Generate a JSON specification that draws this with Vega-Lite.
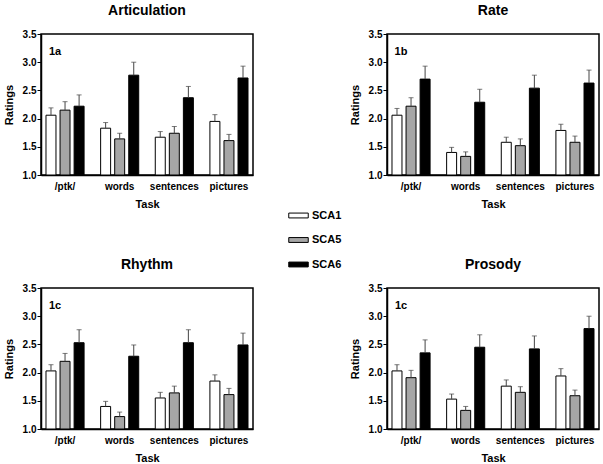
{
  "$schema": "https://vega.github.io/schema/vega-lite/v6.json",
  "background": "white",
  "padding": {"left": 2, "top": 3, "right": 5, "bottom": 5},
  "data": {"values": [
    {"panel": "Articulation", "tag": "1a", "task": "/ptk/", "group": "SCA1", "mean": 2.06, "upper": 2.19},
    {"panel": "Articulation", "tag": "1a", "task": "/ptk/", "group": "SCA5", "mean": 2.15, "upper": 2.30},
    {"panel": "Articulation", "tag": "1a", "task": "/ptk/", "group": "SCA6", "mean": 2.22, "upper": 2.42},
    {"panel": "Articulation", "tag": "1a", "task": "words", "group": "SCA1", "mean": 1.83, "upper": 1.93},
    {"panel": "Articulation", "tag": "1a", "task": "words", "group": "SCA5", "mean": 1.64, "upper": 1.74},
    {"panel": "Articulation", "tag": "1a", "task": "words", "group": "SCA6", "mean": 2.77, "upper": 3.00},
    {"panel": "Articulation", "tag": "1a", "task": "sentences", "group": "SCA1", "mean": 1.67, "upper": 1.77},
    {"panel": "Articulation", "tag": "1a", "task": "sentences", "group": "SCA5", "mean": 1.74, "upper": 1.86},
    {"panel": "Articulation", "tag": "1a", "task": "sentences", "group": "SCA6", "mean": 2.37, "upper": 2.57},
    {"panel": "Articulation", "tag": "1a", "task": "pictures", "group": "SCA1", "mean": 1.95, "upper": 2.07},
    {"panel": "Articulation", "tag": "1a", "task": "pictures", "group": "SCA5", "mean": 1.61, "upper": 1.72},
    {"panel": "Articulation", "tag": "1a", "task": "pictures", "group": "SCA6", "mean": 2.72, "upper": 2.93},
    {"panel": "Rate", "tag": "1b", "task": "/ptk/", "group": "SCA1", "mean": 2.06, "upper": 2.18},
    {"panel": "Rate", "tag": "1b", "task": "/ptk/", "group": "SCA5", "mean": 2.22, "upper": 2.37},
    {"panel": "Rate", "tag": "1b", "task": "/ptk/", "group": "SCA6", "mean": 2.70, "upper": 2.93},
    {"panel": "Rate", "tag": "1b", "task": "words", "group": "SCA1", "mean": 1.40, "upper": 1.49},
    {"panel": "Rate", "tag": "1b", "task": "words", "group": "SCA5", "mean": 1.33, "upper": 1.41},
    {"panel": "Rate", "tag": "1b", "task": "words", "group": "SCA6", "mean": 2.29, "upper": 2.52},
    {"panel": "Rate", "tag": "1b", "task": "sentences", "group": "SCA1", "mean": 1.58, "upper": 1.67},
    {"panel": "Rate", "tag": "1b", "task": "sentences", "group": "SCA5", "mean": 1.52, "upper": 1.64},
    {"panel": "Rate", "tag": "1b", "task": "sentences", "group": "SCA6", "mean": 2.54, "upper": 2.77},
    {"panel": "Rate", "tag": "1b", "task": "pictures", "group": "SCA1", "mean": 1.79, "upper": 1.90},
    {"panel": "Rate", "tag": "1b", "task": "pictures", "group": "SCA5", "mean": 1.58, "upper": 1.69},
    {"panel": "Rate", "tag": "1b", "task": "pictures", "group": "SCA6", "mean": 2.63, "upper": 2.86},
    {"panel": "Rhythm", "tag": "1c", "task": "/ptk/", "group": "SCA1", "mean": 2.03, "upper": 2.14},
    {"panel": "Rhythm", "tag": "1c", "task": "/ptk/", "group": "SCA5", "mean": 2.20, "upper": 2.34},
    {"panel": "Rhythm", "tag": "1c", "task": "/ptk/", "group": "SCA6", "mean": 2.53, "upper": 2.76},
    {"panel": "Rhythm", "tag": "1c", "task": "words", "group": "SCA1", "mean": 1.40, "upper": 1.49},
    {"panel": "Rhythm", "tag": "1c", "task": "words", "group": "SCA5", "mean": 1.22, "upper": 1.30},
    {"panel": "Rhythm", "tag": "1c", "task": "words", "group": "SCA6", "mean": 2.29, "upper": 2.49},
    {"panel": "Rhythm", "tag": "1c", "task": "sentences", "group": "SCA1", "mean": 1.55, "upper": 1.65},
    {"panel": "Rhythm", "tag": "1c", "task": "sentences", "group": "SCA5", "mean": 1.64, "upper": 1.76},
    {"panel": "Rhythm", "tag": "1c", "task": "sentences", "group": "SCA6", "mean": 2.53, "upper": 2.76},
    {"panel": "Rhythm", "tag": "1c", "task": "pictures", "group": "SCA1", "mean": 1.85, "upper": 1.96},
    {"panel": "Rhythm", "tag": "1c", "task": "pictures", "group": "SCA5", "mean": 1.61, "upper": 1.72},
    {"panel": "Rhythm", "tag": "1c", "task": "pictures", "group": "SCA6", "mean": 2.49, "upper": 2.70},
    {"panel": "Prosody", "tag": "1c", "task": "/ptk/", "group": "SCA1", "mean": 2.03, "upper": 2.14},
    {"panel": "Prosody", "tag": "1c", "task": "/ptk/", "group": "SCA5", "mean": 1.91, "upper": 2.04},
    {"panel": "Prosody", "tag": "1c", "task": "/ptk/", "group": "SCA6", "mean": 2.35, "upper": 2.58},
    {"panel": "Prosody", "tag": "1c", "task": "words", "group": "SCA1", "mean": 1.53, "upper": 1.62},
    {"panel": "Prosody", "tag": "1c", "task": "words", "group": "SCA5", "mean": 1.33, "upper": 1.40},
    {"panel": "Prosody", "tag": "1c", "task": "words", "group": "SCA6", "mean": 2.45, "upper": 2.67},
    {"panel": "Prosody", "tag": "1c", "task": "sentences", "group": "SCA1", "mean": 1.76, "upper": 1.87},
    {"panel": "Prosody", "tag": "1c", "task": "sentences", "group": "SCA5", "mean": 1.65, "upper": 1.75},
    {"panel": "Prosody", "tag": "1c", "task": "sentences", "group": "SCA6", "mean": 2.42, "upper": 2.65},
    {"panel": "Prosody", "tag": "1c", "task": "pictures", "group": "SCA1", "mean": 1.94, "upper": 2.07},
    {"panel": "Prosody", "tag": "1c", "task": "pictures", "group": "SCA5", "mean": 1.59, "upper": 1.69},
    {"panel": "Prosody", "tag": "1c", "task": "pictures", "group": "SCA6", "mean": 2.78, "upper": 3.00}
  ]},
  "facet": {
    "field": "panel",
    "type": "nominal",
    "sort": ["Articulation", "Rate", "Rhythm", "Prosody"],
    "header": {
      "title": null,
      "labelFont": "Liberation Sans",
      "labelFontSize": 14,
      "labelFontWeight": "bold",
      "labelColor": "black",
      "labelPadding": 11
    }
  },
  "columns": 2,
  "spacing": {"row": 113, "column": 134},
  "bounds": "flush",
  "resolve": {"axis": {"x": "independent", "y": "independent"}},
  "spec": {
    "width": 212,
    "height": 141,
    "encoding": {
      "x": {
        "field": "task",
        "type": "nominal",
        "sort": ["/ptk/", "words", "sentences", "pictures"],
        "scale": {"paddingInner": 0.2, "paddingOuter": 0.04},
        "axis": {"title": "Task", "labelAngle": 0, "ticks": false, "labelPadding": 6, "titlePadding": 7}
      }
    },
    "layer": [
      {
        "mark": {"type": "bar", "stroke": "black", "strokeWidth": 1},
        "encoding": {
          "xOffset": {"field": "group", "type": "nominal", "scale": {"paddingInner": 0.29, "paddingOuter": 0.2}},
          "y": {
            "field": "mean",
            "type": "quantitative",
            "scale": {"domain": [1, 3.5], "zero": false, "nice": false},
            "axis": {"title": "Ratings", "values": [1, 1.5, 2, 2.5, 3, 3.5], "format": ".1f", "tickSize": 4, "labelPadding": 1, "titlePadding": 8, "labelOverlap": false, "labelFlush": false, "tickCount": 6}
          },
          "y2": {"datum": 1},
          "fill": {
            "field": "group",
            "type": "nominal",
            "scale": {"domain": ["SCA1", "SCA5", "SCA6"], "range": ["#ffffff", "#a6a6a6", "#000000"]},
            "legend": {
              "title": null,
              "orient": "none",
              "legendX": 247,
              "legendY": 171,
              "symbolType": "M-1,-0.25H1V0.25H-1Z",
              "symbolSize": 380,
              "symbolStrokeColor": "black",
              "symbolStrokeWidth": 1,
              "labelFont": "Liberation Sans",
              "labelFontSize": 11,
              "labelFontWeight": "bold",
              "labelColor": "black",
              "labelOffset": 3,
              "rowPadding": 8.5
            }
          }
        }
      },
      {
        "mark": {"type": "rule", "color": "#444444", "strokeWidth": 1},
        "encoding": {
          "xOffset": {"field": "group", "type": "nominal"},
          "y": {"field": "mean", "type": "quantitative", "axis": {"title": "Ratings", "values": [1, 1.5, 2, 2.5, 3, 3.5], "format": ".1f", "tickSize": 4, "labelPadding": 1, "titlePadding": 8, "labelOverlap": false, "labelFlush": false, "tickCount": 6}},
          "y2": {"field": "upper"}
        }
      },
      {
        "mark": {"type": "tick", "color": "#444444", "thickness": 1, "size": 5},
        "encoding": {
          "xOffset": {"field": "group", "type": "nominal"},
          "y": {"field": "upper", "type": "quantitative", "axis": {"title": "Ratings", "values": [1, 1.5, 2, 2.5, 3, 3.5], "format": ".1f", "tickSize": 4, "labelPadding": 1, "titlePadding": 8, "labelOverlap": false, "labelFlush": false, "tickCount": 6}}
        }
      },
      {
        "transform": [{"filter": "datum.task === '/ptk/' && datum.group === 'SCA1'"}],
        "mark": {"type": "text", "font": "Liberation Sans", "fontSize": 11, "fontWeight": "bold", "color": "black", "dx": -10, "baseline": "middle"},
        "encoding": {
          "text": {"field": "tag"},
          "y": {"datum": 3.18}
        }
      }
    ]
  },
  "config": {
    "view": {"stroke": "black", "strokeWidth": 1.5},
    "axis": {
      "labelFont": "Liberation Sans",
      "labelFontSize": 10,
      "labelFontWeight": "bold",
      "labelColor": "black",
      "titleFont": "Liberation Sans",
      "titleFontSize": 11,
      "titleFontWeight": "bold",
      "titleColor": "black",
      "domainColor": "black",
      "domainWidth": 1.5,
      "tickColor": "black",
      "grid": false
    },
    "axisY": {"labelOverlap": false}
  }
}
